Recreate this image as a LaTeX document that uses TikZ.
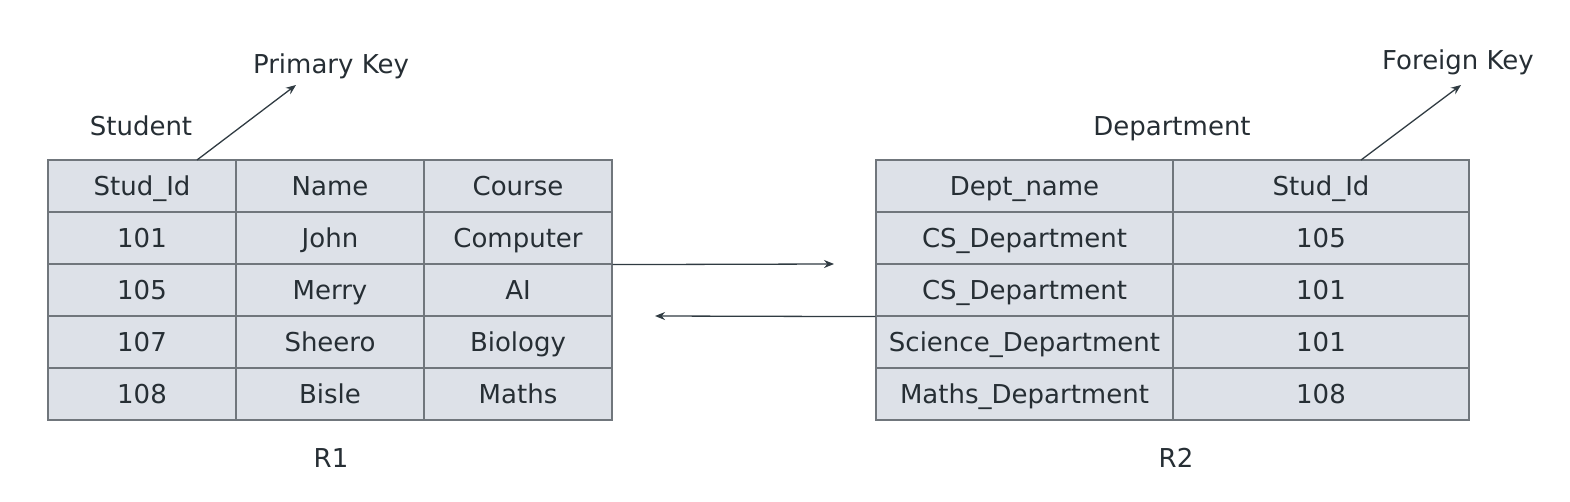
\documentclass[tikz,border=0pt]{standalone}
\usepackage{fontspec}
\setmainfont{DejaVu Sans}
\usetikzlibrary{arrows.meta}
\definecolor{cellfill}{HTML}{DDE1E8}
\definecolor{cellline}{HTML}{70767C}
\definecolor{arrowcol}{HTML}{303B42}
\definecolor{txt}{HTML}{262E34}
\tikzset{
  cell/.style={draw=cellline, fill=cellfill, line width=1.2pt, minimum height=52pt, inner sep=0pt, text height=18.5pt, text depth=0pt, text=txt, font=\fontsize{26}{30}\selectfont},
  lbl/.style={text=txt, font=\fontsize{26}{30}\selectfont, inner sep=0pt, text height=18.5pt, text depth=0pt},
  arr/.style={draw=arrowcol, line width=1.3pt, -{Stealth[length=10pt,width=8pt]}}
}
\begin{document}
\begin{tikzpicture}[x=1pt,y=-1pt]
\useasboundingbox (0,0) rectangle (1570,502);
% Table R1
\node[cell, minimum width=188pt] (r1ha) at (142,186) {Stud\_Id};
\node[cell, minimum width=188pt] (r1hb) at (330,186) {Name};
\node[cell, minimum width=188pt] (r1hc) at (518,186) {Course};
\node[cell, minimum width=188pt] (r1a1) at (142,238) {101};
\node[cell, minimum width=188pt] (r1b1) at (330,238) {John};
\node[cell, minimum width=188pt] (r1c1) at (518,238) {Computer};
\node[cell, minimum width=188pt] (r1a2) at (142,290) {105};
\node[cell, minimum width=188pt] (r1b2) at (330,290) {Merry};
\node[cell, minimum width=188pt] (r1c2) at (518,290) {AI};
\node[cell, minimum width=188pt] (r1a3) at (142,342) {107};
\node[cell, minimum width=188pt] (r1b3) at (330,342) {Sheero};
\node[cell, minimum width=188pt] (r1c3) at (518,342) {Biology};
\node[cell, minimum width=188pt] (r1a4) at (142,394) {108};
\node[cell, minimum width=188pt] (r1b4) at (330,394) {Bisle};
\node[cell, minimum width=188pt] (r1c4) at (518,394) {Maths};
% Table R2
\node[cell, minimum width=297pt] (r2ha) at (1024.5,186) {Dept\_name};
\node[cell, minimum width=296pt] (r2hb) at (1321,186) {Stud\_Id};
\node[cell, minimum width=297pt] (r2a1) at (1024.5,238) {CS\_Department};
\node[cell, minimum width=296pt] (r2b1) at (1321,238) {105};
\node[cell, minimum width=297pt] (r2a2) at (1024.5,290) {CS\_Department};
\node[cell, minimum width=296pt] (r2b2) at (1321,290) {101};
\node[cell, minimum width=297pt] (r2a3) at (1024.5,342) {Science\_Department};
\node[cell, minimum width=296pt] (r2b3) at (1321,342) {101};
\node[cell, minimum width=297pt] (r2a4) at (1024.5,394) {Maths\_Department};
\node[cell, minimum width=296pt] (r2b4) at (1321,394) {108};
% Labels
\node[lbl] (student) at (141,126) {Student};
\node[lbl] (pk) at (331,64) {Primary Key};
\node[lbl] (dept) at (1172,126) {Department};
\node[lbl] (fk) at (1458,60) {Foreign Key};
\node[lbl] (rone) at (331,458) {R1};
\node[lbl] (rtwo) at (1176,458) {R2};
% Connectors
\coordinate (pkend) at (296,85);
\coordinate (fkend) at (1461,85);
\coordinate (pkstart) at (197,160);
\coordinate (fkstart) at (1361,160);
\coordinate (toR2) at (834,264);
\coordinate (toR1) at (655,316);
\draw[arr] (pkstart) -- (pkend);
\draw[arr] (fkstart) -- (fkend);
\draw[arr] (r1c1.south east) -- (toR2);
\draw[arr] (r2a2.south west) -- (toR1);
\end{tikzpicture}
\end{document}
